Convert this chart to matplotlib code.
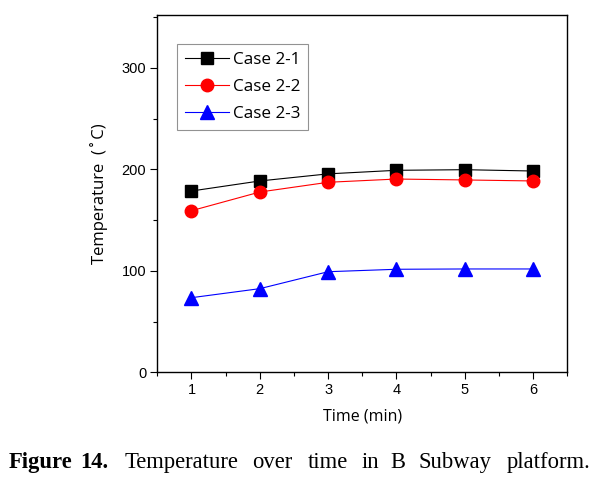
import matplotlib
matplotlib.use("Agg")
import matplotlib.pyplot as plt
from matplotlib.ticker import MultipleLocator

time_min = [1, 2, 3, 4, 5, 6]
case_2_1 = [178.6, 188.5, 195.5, 199.0, 199.6, 198.3]
case_2_2 = [159.2, 177.6, 187.2, 190.4, 189.5, 188.5]
case_2_3 = [73.5, 82.4, 99.1, 101.5, 101.8, 101.8]
series_labels = ["Case 2-1", "Case 2-2", "Case 2-3"]
caption_words = ["Figure", "14.", "Temperature", "over", "time", "in", "B", "Subway", "platform."]

W, H = 607, 488
fig = plt.figure(figsize=(W / 100, H / 100), dpi=100)
ax = fig.add_axes([157.3 / W, 1 - 372.3 / H, (567.3 - 157.3) / W, (372.3 - 15) / H])

ax.plot(time_min, case_2_1, color="black", lw=0.8, marker="s", ms=8, mfc="black", mec="black", label=series_labels[0])
ax.plot(time_min, case_2_2, color="red", lw=0.8, marker="o", ms=9, mfc="red", mec="red", label=series_labels[1])
ax.plot(time_min, case_2_3, color="blue", lw=0.8, marker="^", ms=10, mfc="blue", mec="blue", label=series_labels[2])

ax.set_xlim(0.5, 6.5)
ax.set_ylim(0, 352)
ax.xaxis.set_major_locator(MultipleLocator(1))
ax.xaxis.set_minor_locator(MultipleLocator(0.5))
ax.yaxis.set_major_locator(MultipleLocator(100))
ax.yaxis.set_minor_locator(MultipleLocator(50))
ax.tick_params(which="both", direction="out", top=False, right=False, width=0.8)
ax.tick_params(which="major", length=5, pad=3)
ax.tick_params(which="minor", length=3)
for lab in ax.get_xticklabels() + ax.get_yticklabels():
    lab.set_fontfamily("Liberation Sans")
    lab.set_fontsize(10.5)
for s in ax.spines.values():
    s.set_linewidth(1.0)

ax.set_xlabel("Time (min)", family="Open Sans", fontsize=11.5, labelpad=8)
ax.set_ylabel("Temperature  (\u2009\u02da\u2009C)", family=["Open Sans", "DejaVu Sans"], fontsize=12, labelpad=10)

leg = ax.legend(loc="upper left", bbox_to_anchor=((177.3 - 157.3) / 410, (372.3 - 44.3) / 357.3),
                prop={"family": "Open Sans", "size": 12.3}, frameon=True, fancybox=False,
                edgecolor="#777777", handlelength=2.6, handletextpad=0.2, borderpad=0.45,
                labelspacing=0.65, borderaxespad=0)
leg.get_frame().set_linewidth(0.8)

xs = [9, 80, 125, 252, 308, 362, 390, 418, 507]
for i, (w, x) in enumerate(zip(caption_words, xs)):
    fig.text(x / W, 1 - 468 / H, w, family="Liberation Serif", fontsize=16.3,
             fontweight="bold" if i < 2 else "normal", ha="left", va="baseline")

fig.savefig("out.png", dpi=100)
